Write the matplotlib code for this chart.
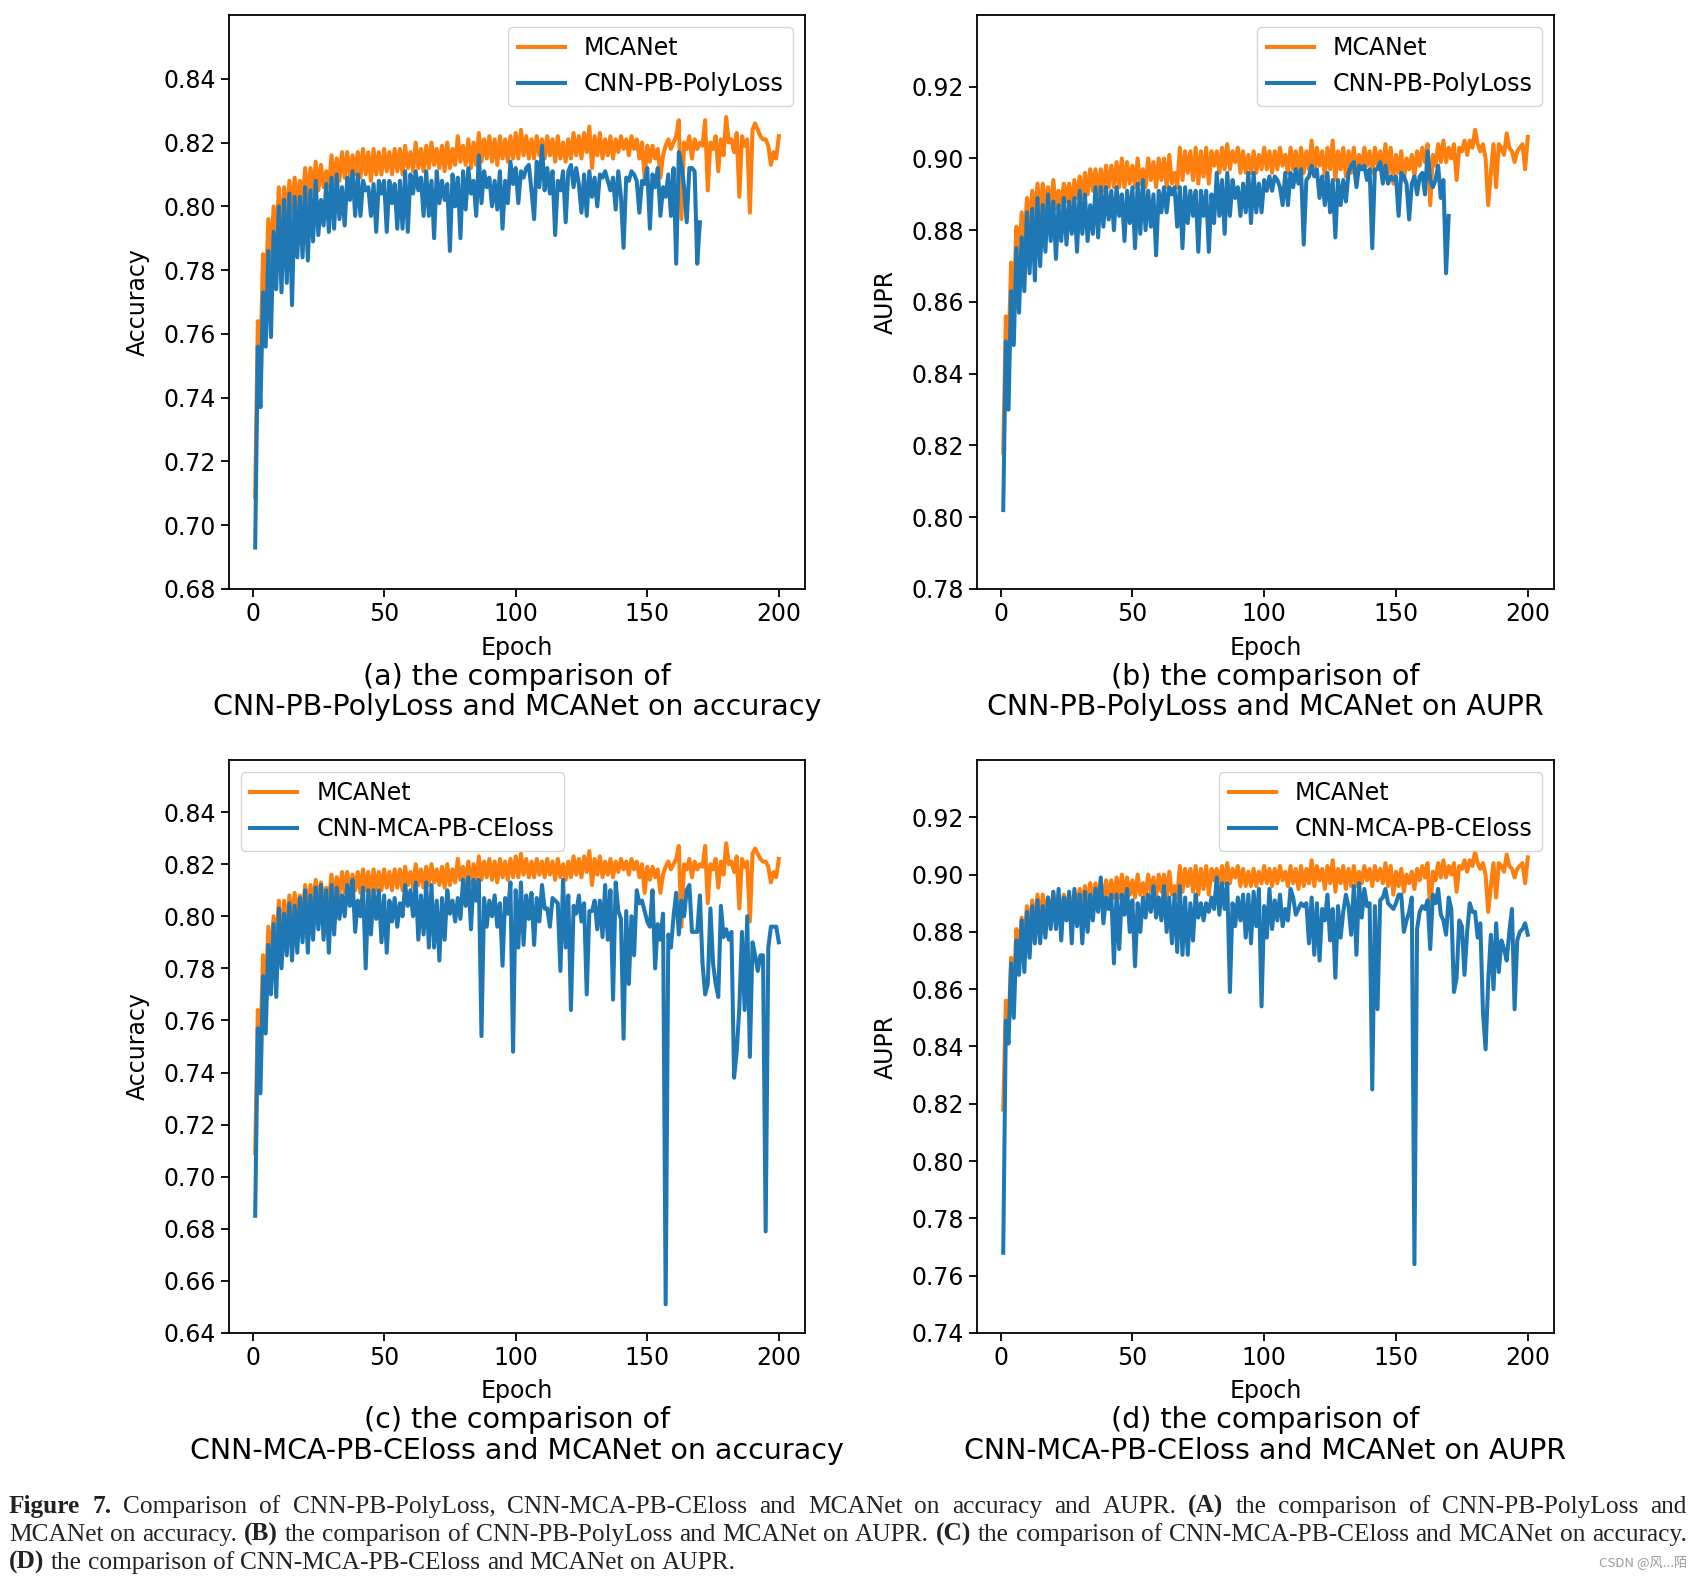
import numpy as np
import matplotlib
matplotlib.use('Agg')
import matplotlib.pyplot as plt

# Valores (en milesimas), una posicion por epoca
mcanet_acc = np.array([
    709, 764, 752, 785, 772, 796, 783, 800, 788, 806,
    790, 806, 795, 808, 798, 809, 800, 808, 801, 812,
    802, 812, 804, 814, 805, 813, 806, 811, 806, 816,
    807, 815, 808, 817, 809, 817, 809, 816, 810, 817,
    809, 818, 810, 817, 808, 818, 810, 817, 810, 818,
    811, 817, 810, 818, 811, 818, 810, 819, 812, 817,
    811, 820, 812, 818, 811, 819, 812, 820, 813, 818,
    812, 819, 811, 820, 812, 818, 813, 822, 814, 819,
    813, 821, 812, 820, 813, 823, 814, 821, 815, 822,
    814, 821, 813, 822, 815, 821, 814, 822, 815, 823,
    815, 824, 816, 822, 815, 821, 815, 822, 816, 821,
    815, 822, 816, 821, 814, 822, 815, 820, 814, 821,
    815, 823, 816, 822, 815, 823, 817, 825, 812, 822,
    816, 823, 815, 821, 816, 822, 815, 821, 817, 822,
    818, 821, 816, 822, 818, 821, 815, 820, 809, 819,
    814, 819, 815, 818, 809, 816, 819, 821, 818, 820,
    822, 827, 796, 820, 818, 822, 815, 821, 818, 820,
    819, 827, 805, 820, 818, 822, 811, 821, 816, 828,
    820, 821, 817, 823, 803, 822, 819, 821, 798, 824,
    826, 824, 822, 821, 821, 819, 813, 817, 815, 822]) / 1000

poly_acc = np.array([
    693, 756, 737, 773, 756, 786, 759, 792, 774, 800,
    773, 802, 776, 804, 769, 803, 784, 803, 784, 806,
    783, 805, 789, 808, 791, 802, 794, 807, 792, 809,
    793, 810, 796, 806, 794, 809, 802, 811, 797, 810,
    797, 808, 805, 806, 797, 807, 792, 808, 804, 808,
    792, 808, 801, 807, 793, 808, 793, 811, 792, 810,
    804, 811, 805, 809, 797, 811, 797, 808, 790, 811,
    801, 808, 802, 807, 786, 810, 800, 809, 790, 811,
    799, 812, 804, 808, 797, 816, 801, 811, 806, 809,
    800, 808, 799, 811, 793, 808, 801, 814, 807, 812,
    801, 811, 809, 812, 813, 805, 796, 814, 806, 819,
    805, 812, 804, 811, 791, 808, 805, 811, 795, 811,
    813, 806, 812, 807, 798, 810, 797, 811, 803, 809,
    800, 810, 809, 811, 808, 805, 809, 799, 811, 803,
    787, 809, 808, 811, 810, 808, 798, 808, 807, 812,
    793, 810, 806, 812, 797, 806, 803, 810, 797, 812,
    782, 817, 813, 806, 795, 812, 812, 811, 782, 795]) / 1000

celoss_acc = np.array([
    685, 757, 732, 777, 755, 789, 770, 797, 769, 803,
    780, 801, 785, 805, 783, 804, 786, 807, 790, 810,
    786, 808, 791, 811, 795, 812, 791, 810, 786, 812,
    793, 811, 799, 808, 800, 812, 804, 814, 794, 806,
    800, 811, 780, 810, 793, 810, 799, 810, 790, 808,
    786, 806, 798, 807, 796, 805, 800, 812, 804, 810,
    800, 813, 791, 808, 793, 813, 788, 812, 788, 806,
    783, 807, 791, 810, 801, 806, 798, 807, 799, 814,
    804, 815, 795, 814, 806, 814, 754, 807, 796, 806,
    800, 808, 796, 805, 781, 807, 801, 813, 748, 810,
    788, 813, 789, 808, 799, 809, 789, 807, 798, 812,
    803, 803, 796, 807, 806, 805, 779, 814, 788, 808,
    764, 804, 801, 808, 798, 805, 770, 802, 802, 806,
    795, 806, 792, 812, 791, 810, 768, 813, 802, 799,
    753, 802, 774, 800, 785, 810, 805, 806, 802, 798,
    796, 810, 780, 797, 791, 801, 651, 793, 788, 800,
    809, 793, 806, 800, 810, 812, 794, 794, 794, 808,
    782, 770, 774, 803, 782, 774, 769, 804, 792, 795,
    791, 794, 738, 748, 765, 794, 764, 800, 746, 790,
    785, 779, 785, 785, 679, 788, 796, 796, 796, 790]) / 1000

mcanet_aupr = np.array([
    818, 856, 846, 871, 860, 881, 871, 885, 876, 889,
    881, 891, 882, 893, 884, 893, 886, 892, 885, 894,
    886, 891, 887, 893, 888, 893, 887, 894, 889, 895,
    889, 896, 890, 897, 891, 897, 890, 897, 891, 898,
    892, 898, 892, 899, 892, 900, 892, 899, 893, 898,
    892, 900, 893, 897, 892, 900, 894, 899, 892, 900,
    894, 900, 892, 901, 893, 896, 892, 903, 894, 902,
    896, 902, 894, 903, 893, 902, 895, 903, 893, 902,
    898, 902, 896, 903, 897, 904, 897, 902, 899, 903,
    896, 902, 896, 901, 896, 902, 896, 901, 897, 903,
    897, 902, 896, 902, 897, 903, 898, 901, 896, 903,
    897, 902, 895, 903, 896, 902, 897, 905, 896, 903,
    898, 902, 895, 903, 897, 905, 894, 902, 897, 903,
    895, 902, 896, 903, 896, 901, 897, 903, 898, 902,
    896, 903, 898, 902, 897, 904, 896, 903, 893, 901,
    896, 902, 894, 900, 897, 901, 895, 902, 898, 903,
    899, 904, 887, 901, 898, 904, 899, 905, 899, 903,
    900, 904, 894, 903, 902, 905, 901, 905, 903, 908,
    904, 902, 904, 900, 887, 896, 904, 892, 904, 903,
    901, 907, 903, 902, 899, 902, 903, 904, 897, 906]) / 1000

poly_aupr = np.array([
    802, 849, 830, 863, 848, 875, 857, 878, 863, 885,
    868, 886, 866, 889, 870, 887, 874, 890, 877, 888,
    872, 887, 877, 889, 876, 888, 879, 889, 874, 891,
    879, 890, 877, 887, 879, 892, 878, 892, 881, 892,
    883, 891, 880, 892, 884, 890, 877, 891, 882, 892,
    875, 893, 879, 894, 880, 891, 881, 890, 873, 891,
    885, 892, 885, 892, 890, 892, 881, 892, 875, 892,
    882, 891, 884, 891, 874, 891, 884, 891, 874, 890,
    882, 896, 884, 894, 879, 896, 884, 894, 889, 892,
    884, 893, 885, 896, 882, 896, 885, 893, 885, 894,
    891, 895, 891, 895, 894, 892, 887, 896, 887, 896,
    892, 897, 893, 897, 876, 894, 895, 898, 895, 897,
    889, 895, 887, 896, 885, 894, 878, 894, 887, 894,
    888, 896, 898, 899, 892, 898, 897, 898, 894, 897,
    875, 897, 897, 899, 893, 898, 893, 895, 894, 895,
    884, 896, 895, 893, 883, 893, 895, 890, 895, 896,
    890, 902, 894, 892, 894, 898, 889, 894, 868, 884]) / 1000

celoss_aupr = np.array([
    768, 849, 841, 869, 850, 877, 865, 884, 866, 887,
    871, 889, 876, 891, 876, 889, 878, 892, 881, 894,
    881, 895, 877, 892, 884, 894, 876, 895, 882, 893,
    876, 894, 880, 893, 884, 895, 887, 899, 883, 892,
    888, 893, 869, 893, 874, 893, 886, 895, 880, 891,
    868, 890, 880, 892, 885, 893, 887, 896, 885, 892,
    884, 896, 880, 892, 876, 893, 873, 896, 872, 892,
    872, 890, 877, 893, 885, 890, 884, 890, 887, 892,
    888, 899, 886, 897, 888, 897, 859, 890, 882, 892,
    884, 893, 878, 893, 876, 894, 882, 895, 854, 889,
    878, 895, 881, 891, 884, 893, 882, 888, 884, 895,
    892, 886, 888, 890, 889, 890, 876, 892, 872, 890,
    870, 888, 884, 893, 877, 888, 864, 889, 878, 887,
    893, 889, 879, 896, 872, 897, 885, 895, 889, 890,
    825, 889, 853, 891, 892, 895, 890, 889, 888, 890,
    893, 893, 880, 884, 887, 892, 764, 881, 887, 889,
    888, 891, 874, 893, 890, 895, 886, 884, 879, 892,
    888, 859, 864, 884, 882, 865, 880, 890, 887, 887,
    878, 883, 852, 839, 863, 879, 860, 883, 866, 877,
    874, 870, 880, 888, 853, 877, 880, 881, 883, 879]) / 1000

epochs = np.arange(1, len(mcanet_acc) + 1)
epochs_poly = np.arange(1, len(poly_acc) + 1)

W, H = 1703, 1578
fig = plt.figure(figsize=(W / 100, H / 100), dpi=100)
FS = 17
LW = 2.9

def add_ax(l, t, r, b):
    return fig.add_axes([l / W, 1 - b / H, (r - l) / W, (b - t) / H])

panels = [
    (add_ax(229, 15, 805, 589), mcanet_acc, poly_acc, epochs_poly, 'CNN-PB-PolyLoss',
     'Accuracy', (0.68, 0.86), np.arange(0.68, 0.841, 0.02), 'upper right',
     '(a) the comparison of\nCNN-PB-PolyLoss and MCANet on accuracy'),
    (add_ax(977, 15, 1554, 589), mcanet_aupr, poly_aupr, epochs_poly, 'CNN-PB-PolyLoss',
     'AUPR', (0.78, 0.94), np.arange(0.78, 0.921, 0.02), 'upper right',
     '(b) the comparison of\nCNN-PB-PolyLoss and MCANet on AUPR'),
    (add_ax(229, 760, 805, 1333), mcanet_acc, celoss_acc, epochs, 'CNN-MCA-PB-CEloss',
     'Accuracy', (0.64, 0.86), np.arange(0.64, 0.841, 0.02), 'upper left',
     '(c) the comparison of\nCNN-MCA-PB-CEloss and MCANet on accuracy'),
    (add_ax(977, 760, 1554, 1333), mcanet_aupr, celoss_aupr, epochs, 'CNN-MCA-PB-CEloss',
     'AUPR', (0.74, 0.94), np.arange(0.74, 0.921, 0.02), 'upper right',
     '(d) the comparison of\nCNN-MCA-PB-CEloss and MCANet on AUPR'),
]

for ax, mc, other, ox, olabel, ylab, ylim, yt, loc, sub in panels:
    ax.plot(epochs, mc, color='#ff7f0e', linewidth=LW, label='MCANet')
    ax.plot(ox, other, color='#1f77b4', linewidth=LW, label=olabel)
    ax.set_ylim(*ylim)
    ax.set_yticks(yt)
    ax.set_xticks([0, 50, 100, 150, 200])
    ax.tick_params(labelsize=FS, length=6, width=1.3)
    for s in ax.spines.values():
        s.set_linewidth(1.3)
    ax.set_xlabel('Epoch', fontsize=FS, va='center')
    ax.xaxis.set_label_coords(0.5, -0.102)
    ax.set_ylabel(ylab, fontsize=FS, va='center')
    ax.yaxis.set_label_coords(-0.158, 0.5)
    ax.legend(loc=loc, fontsize=FS)
    ax.text(0.5, -0.179, sub, transform=ax.transAxes, ha='center', va='center',
            fontsize=20.5, linespacing=1.1)

# Pie de figura (justificado)
cap_font = 'Liberation Serif'
cap_left, cap_right = 9, 1687
cap_lines = [
    [('Figure 7.', True),
     ('Comparison of CNN-PB-PolyLoss, CNN-MCA-PB-CEloss and MCANet on accuracy and AUPR.', False),
     ('(A)', True), ('the comparison of CNN-PB-PolyLoss and', False)],
    [('MCANet on accuracy.', False), ('(B)', True),
     ('the comparison of CNN-PB-PolyLoss and MCANet on AUPR.', False), ('(C)', True),
     ('the comparison of CNN-MCA-PB-CEloss and MCANet on accuracy.', False)],
    [('(D)', True), ('the comparison of CNN-MCA-PB-CEloss and MCANet on AUPR.', False)],
]
cap_base = [1513, 1541, 1569]
renderer = fig.canvas.get_renderer()

def words_of(segs):
    out = []
    for txt, bold in segs:
        out += [(w, bold) for w in txt.split()]
    return out

def place_line(segs, y_px, size, justify):
    words = words_of(segs)
    arts = [fig.text(0, 1 - y_px / H, w, fontsize=size, family=cap_font,
                     weight='bold' if b else 'normal', va='baseline', color='#222222')
            for w, b in words]
    widths = [a.get_window_extent(renderer).width for a in arts]
    space = 0.25 * size * 100 / 72
    if justify:
        gap = (cap_right - cap_left - sum(widths)) / (len(words) - 1)
    else:
        gap = space
    x = cap_left
    for a, w in zip(arts, widths):
        a.set_x(x / W)
        x += w + gap
    return sum(widths) + space * (len(words) - 1), arts

# ajustar el tamano para que la segunda linea quepa en el ancho
natural, tmp = place_line(cap_lines[1], cap_base[1], 18, False)
for a in tmp:
    a.remove()
cap_size = 18 * (cap_right - cap_left - 6) / natural

for i, segs in enumerate(cap_lines):
    place_line(segs, cap_base[i], cap_size, i < 2)

fig.text(1687 / W, 1 - 1567 / H, 'CSDN @风...陌', fontsize=9.5, color='#999999',
         ha='right', va='baseline', family=['Noto Sans CJK SC', 'DejaVu Sans'])

fig.savefig('out.png', dpi=100)
